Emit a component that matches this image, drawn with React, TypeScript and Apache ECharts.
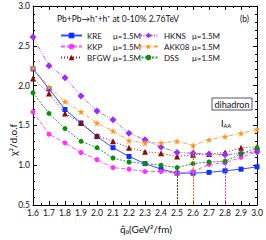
import React, { useEffect, useRef } from "react";
import * as echarts from "echarts";

const xs = [1.6, 1.7, 1.8, 1.9, 2.0, 2.1, 2.2, 2.3, 2.4, 2.5, 2.6, 2.7, 2.8, 2.9, 3.0];
const kre = [2.21, 1.96, 1.7, 1.53, 1.36, 1.22, 1.11, 1.02, 0.95, 0.9, 0.9, 0.91, 0.93, 0.95, 0.98];
const kkp = [1.67, 1.39, 1.28, 1.16, 1.07, 0.97, 0.95, 0.92, 0.92, 0.9, 0.92, 1.01, 1.03, 1.1, 1.17];
const bfgw = [2.09, 1.9, 1.65, 1.53, 1.37, 1.3, 1.22, 1.17, 1.15, 1.11, 1.13, 1.14, 1.16, 1.22, 1.23];
const hkns = [2.61, 2.25, 2.1, 1.87, 1.68, 1.57, 1.4, 1.32, 1.23, 1.16, 1.15, 1.14, 1.13, 1.15, 1.17];
const akk08 = [2.22, 1.98, 1.8, 1.67, 1.53, 1.43, 1.31, 1.28, 1.28, 1.3, 1.25, 1.32, 1.36, 1.4, 1.45];
const dss = [1.91, 1.65, 1.46, 1.3, 1.22, 1.09, 1.04, 1.02, 1.0, 0.97, 1.02, 1.04, 1.05, 1.14, 1.22];
// x of each minimum marker line and its top value
const minDss = [2.5, 0.97];
const minAkk = [2.6, 1.25];
const minHkns = [2.8, 1.13];

const STAR = "path://M50,0 L61,35 L98,35 L68,57 L79,91 L50,70 L21,91 L32,57 L2,35 L39,35 Z";
const FONT = "Lato";

export default function App() {
  const ref = useRef<HTMLDivElement>(null);
  useEffect(() => {
    if (!ref.current) return;
    const chart = echarts.init(ref.current, undefined, { renderer: "svg" });
    const pairs = (v: number[]) => xs.map((x, i) => [x, v[i]]);
    const vline = (m: number[], color: string) => ({
      silent: true,
      symbol: "none",
      label: { show: false },
      lineStyle: { color, type: [2, 1], width: 1 },
      data: [[{ coord: [m[0], 0.5] }, { coord: [m[0], m[1]] }]],
    });
    const mk = (
      name: string,
      data: number[],
      color: string,
      lineColor: string,
      type: any,
      symbol: string,
      size: number,
      markLine?: any
    ) => ({
      name,
      type: "line",
      data: pairs(data),
      symbol,
      symbolSize: size,
      itemStyle: { color },
      lineStyle: { color: lineColor, width: 1, type },
      z: 3,
      ...(markLine ? { markLine } : {}),
    });
    const mkRich = (w: number) => ({
      n: { width: w, fontSize: 8, fontFamily: FONT, color: "#111" },
      m: { fontSize: 8, fontFamily: FONT, color: "#111" },
    });
    const legendBase = {
      orient: "vertical",
      top: 30,
      itemWidth: 21,
      itemHeight: 7,
      itemGap: 0,
      padding: 0,
      formatter: (n: string) => `{n|${n}}{m|\u03bc=1.5M}`,
    };
    const axisCommon = {
      axisLine: { show: true, lineStyle: { color: "#000", width: 1 } },
      axisTick: { inside: true, length: 4, lineStyle: { color: "#000" } },
      splitLine: { show: false },
    };
    chart.setOption({
      animation: false,
      grid: { left: 33, right: 7, top: 6, bottom: 35 },
      legend: [
        {
          ...legendBase,
          left: 60,
          data: ["KRE", "KKP", "BFGW"],
          textStyle: { fontSize: 8, fontFamily: FONT, lineHeight: 11, rich: mkRich(26) },
        },
        {
          ...legendBase,
          left: 137,
          data: ["HKNS", "AKK08", "DSS"],
          textStyle: { fontSize: 8, fontFamily: FONT, lineHeight: 11, rich: mkRich(28) },
        },
      ],
      xAxis: [
        {
          type: "value",
          min: 1.6,
          max: 3.0,
          interval: 0.1,
          ...axisCommon,
          minorTick: { show: true, splitNumber: 2, length: 2, lineStyle: { color: "#000" } },
          axisLabel: { fontSize: 8.5, fontFamily: FONT, color: "#111", margin: 3, formatter: (v: number) => v.toFixed(1) },
        },
        {
          type: "value",
          position: "top",
          min: 1.6,
          max: 3.0,
          interval: 0.1,
          ...axisCommon,
          minorTick: { show: true, splitNumber: 2, length: 2, lineStyle: { color: "#000" } },
          axisLabel: { show: false },
        },
      ],
      yAxis: [
        {
          type: "value",
          min: 0.5,
          max: 3.0,
          interval: 0.5,
          ...axisCommon,
          minorTick: { show: true, splitNumber: 5, length: 2, lineStyle: { color: "#000" } },
          axisLabel: { fontSize: 8.5, fontFamily: FONT, color: "#111", margin: 3, formatter: (v: number) => v.toFixed(1) },
        },
        {
          type: "value",
          position: "right",
          min: 0.5,
          max: 3.0,
          interval: 0.5,
          ...axisCommon,
          minorTick: { show: true, splitNumber: 5, length: 2, lineStyle: { color: "#000" } },
          axisLabel: { show: false },
        },
      ],
      series: [
        mk("KRE", kre, "#1030ff", "#3050ff", "solid", "rect", 5),
        mk("KKP", kkp, "#ff30ff", "#ff50ff", [4, 2], "circle", 5),
        mk("BFGW", bfgw, "#8b0a0a", "#9b1a1a", [1, 2], "triangle", 6),
        mk("HKNS", hkns, "#9a30f0", "#a860ff", [4, 1.5, 1, 1.5, 1, 1.5], "diamond", 7, vline(minHkns, "#a050ff")),
        mk("AKK08", akk08, "#ff9326", "#ffa040", [4, 1.5, 1, 1.5], STAR, 7, vline(minAkk, "#f06a20")),
        mk("DSS", dss, "#138a13", "#2a9a2a", [2, 1.5], "circle", 5, vline(minDss, "#3a4a20")),
      ],
      graphic: [
        {
          type: "text",
          left: 57,
          top: 14,
          style: { text: "Pb+Pb\u2192h\u207a+h\u207a at 0-10% 2.76TeV", fontSize: 8.5, fontFamily: FONT, fill: "#111" },
        },
        {
          type: "text",
          left: 240,
          top: 14,
          style: { text: "(b)", fontSize: 8.5, fontFamily: FONT, fill: "#111" },
        },
        {
          type: "text",
          x: 232,
          y: 104,
          style: {
            text: "dihadron",
            fontSize: 9,
            fontFamily: FONT,
            fill: "#111",
            align: "center",
            verticalAlign: "middle",
            borderColor: "#555",
            borderWidth: 1,
            padding: [1, 2, 1, 2],
            backgroundColor: "#fff",
          },
        },
        {
          type: "text",
          x: 221,
          y: 118,
          style: {
            text: "{a|I}{b|AA}",
            rich: {
              a: { fontSize: 9, fontFamily: FONT, color: "#111" },
              b: { fontSize: 5.5, fontFamily: FONT, color: "#111", padding: [5, 0, 0, 0] },
            },
          },
        },
        {
          type: "text",
          x: 13,
          y: 140,
          rotation: Math.PI / 2,
          style: {
            text: "\u03c7\u00b2/d.o.f",
            fontSize: 10,
            fontFamily: FONT,
            fill: "#111",
            align: "center",
            verticalAlign: "middle",
          },
        },
        {
          type: "text",
          x: 146,
          y: 229,
          style: {
            text: "q\u0302\u2080(GeV\u00b2/fm)",
            fontSize: 10,
            fontFamily: FONT,
            fill: "#111",
            align: "center",
            verticalAlign: "middle",
          },
        },
      ],
    });
    return () => chart.dispose();
  }, []);
  return (
    <div
      ref={ref}
      style={{ position: "absolute", left: 0, top: 0, width: 266, height: 240 }}
    />
  );
}
